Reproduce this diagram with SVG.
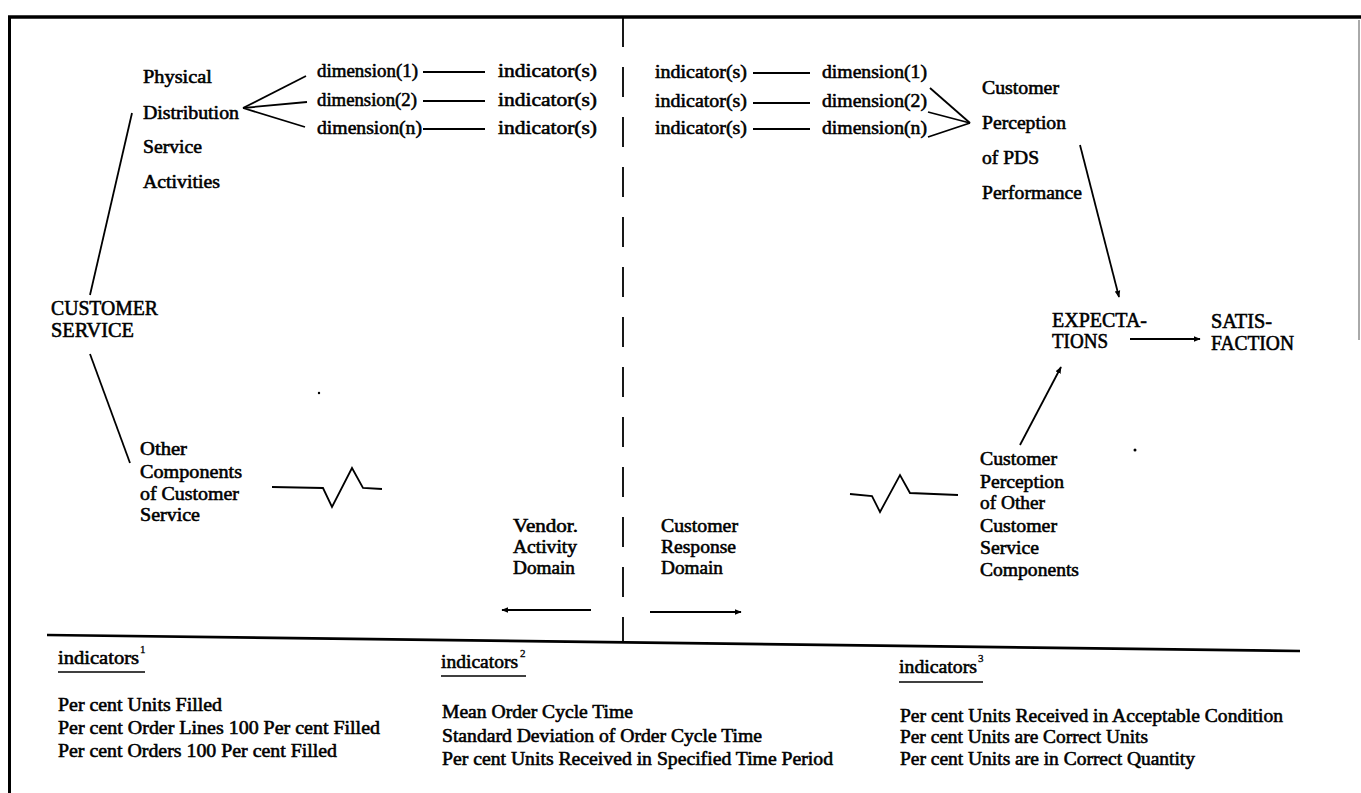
<svg xmlns="http://www.w3.org/2000/svg" width="1361" height="793" viewBox="0 0 1361 793">
<style>
text{font-family:"Liberation Serif","Times New Roman",serif;font-size:18px;fill:#000;stroke:#000;stroke-width:0.55}
.cap{font-size:20px}
.sup{font-size:11px;stroke-width:0.3}
.ln{stroke:#000;stroke-width:1.8;fill:none}
.ul{stroke:#000;stroke-width:1.5;fill:none}
</style>
<defs>
<marker id="ah" viewBox="0 0 10 10" refX="9" refY="5" markerWidth="7" markerHeight="7" orient="auto" markerUnits="userSpaceOnUse">
<path d="M0,1 L10,5 L0,9 z" fill="#000"/>
</marker>
</defs>
<rect width="1361" height="793" fill="#fff"/>
<g id="frame">
<line x1="8" y1="17" x2="1361" y2="17" stroke="#000" stroke-width="3.5"/>
<line x1="9.5" y1="16" x2="9.5" y2="793" stroke="#000" stroke-width="3"/>
<line x1="1359" y1="20" x2="1359" y2="340" stroke="#555" stroke-width="1"/>
<line x1="623" y1="17" x2="623" y2="642" stroke="#000" stroke-width="1.8" stroke-dasharray="30 20"/>
<line x1="47" y1="635" x2="1300" y2="651" stroke="#000" stroke-width="2.6"/>
<circle cx="319" cy="393" r="1.2" fill="#000"/>
<circle cx="1135" cy="450" r="1.5" fill="#000"/>
</g>
<g id="connectors">
<line class="ln" x1="132" y1="113" x2="90" y2="295"/>
<line class="ln" x1="90" y1="354" x2="130" y2="463"/>
<line class="ln" x1="306" y1="76" x2="243" y2="108"/>
<line class="ln" x1="307" y1="102" x2="243" y2="108"/>
<line class="ln" x1="305" y1="127" x2="243" y2="108"/>
<line class="ln" x1="423" y1="72" x2="485" y2="72"/>
<line class="ln" x1="423" y1="101" x2="485" y2="101"/>
<line class="ln" x1="423" y1="129" x2="485" y2="129"/>
<line class="ln" x1="753" y1="73" x2="810" y2="73"/>
<line class="ln" x1="753" y1="103" x2="810" y2="103"/>
<line class="ln" x1="753" y1="129" x2="810" y2="129"/>
<line class="ln" x1="930" y1="88" x2="970" y2="123"/>
<line class="ln" x1="928" y1="112" x2="970" y2="123"/>
<line class="ln" x1="928" y1="137" x2="970" y2="123"/>
<line class="ln" x1="1080" y1="145" x2="1119" y2="297" marker-end="url(#ah)"/>
<line class="ln" x1="1130" y1="339" x2="1200" y2="339" marker-end="url(#ah)"/>
<line class="ln" x1="1020" y1="445" x2="1061" y2="367" marker-end="url(#ah)"/>
<polyline class="ln" points="272,487 323,488 332,507 352,468 363,488 382,489"/>
<polyline class="ln" points="850,494 872,496 880,512 900,475 910,493 958,495"/>
<line class="ln" x1="591" y1="610" x2="502" y2="610" marker-end="url(#ah)"/>
<line class="ln" x1="650" y1="612" x2="741" y2="612" marker-end="url(#ah)"/>
</g>
<g id="pdsa">
<text x="143" y="83" textLength="69" lengthAdjust="spacingAndGlyphs">Physical</text>
<text x="143" y="119" textLength="96" lengthAdjust="spacingAndGlyphs">Distribution</text>
<text x="143" y="153" textLength="59" lengthAdjust="spacingAndGlyphs">Service</text>
<text x="143" y="188" textLength="77" lengthAdjust="spacingAndGlyphs">Activities</text>
</g>
<g id="customer-service">
<text class="cap" x="51" y="315" textLength="107" lengthAdjust="spacingAndGlyphs">CUSTOMER</text>
<text class="cap" x="51" y="337" textLength="83" lengthAdjust="spacingAndGlyphs">SERVICE</text>
</g>
<g id="vendor-dims">
<text x="317" y="77" textLength="101" lengthAdjust="spacingAndGlyphs">dimension(1)</text>
<text x="317" y="106" textLength="100" lengthAdjust="spacingAndGlyphs">dimension(2)</text>
<text x="317" y="134" textLength="105" lengthAdjust="spacingAndGlyphs">dimension(n)</text>
<text x="498" y="77" textLength="99" lengthAdjust="spacingAndGlyphs">indicator(s)</text>
<text x="498" y="106" textLength="99" lengthAdjust="spacingAndGlyphs">indicator(s)</text>
<text x="498" y="134" textLength="99" lengthAdjust="spacingAndGlyphs">indicator(s)</text>
</g>
<g id="customer-dims">
<text x="655" y="78" textLength="92" lengthAdjust="spacingAndGlyphs">indicator(s)</text>
<text x="655" y="107" textLength="92" lengthAdjust="spacingAndGlyphs">indicator(s)</text>
<text x="655" y="134" textLength="92" lengthAdjust="spacingAndGlyphs">indicator(s)</text>
<text x="822" y="78" textLength="105" lengthAdjust="spacingAndGlyphs">dimension(1)</text>
<text x="822" y="107" textLength="105" lengthAdjust="spacingAndGlyphs">dimension(2)</text>
<text x="822" y="134" textLength="105" lengthAdjust="spacingAndGlyphs">dimension(n)</text>
</g>
<g id="perception-pds">
<text x="982" y="94" textLength="77" lengthAdjust="spacingAndGlyphs">Customer</text>
<text x="982" y="129" textLength="84" lengthAdjust="spacingAndGlyphs">Perception</text>
<text x="982" y="164" textLength="57" lengthAdjust="spacingAndGlyphs">of PDS</text>
<text x="982" y="199" textLength="100" lengthAdjust="spacingAndGlyphs">Performance</text>
</g>
<g id="expectations">
<text class="cap" x="1052" y="327" textLength="95" lengthAdjust="spacingAndGlyphs">EXPECTA-</text>
<text class="cap" x="1052" y="348" textLength="56" lengthAdjust="spacingAndGlyphs">TIONS</text>
</g>
<g id="satisfaction">
<text class="cap" x="1211" y="328" textLength="61" lengthAdjust="spacingAndGlyphs">SATIS-</text>
<text class="cap" x="1211" y="350" textLength="83" lengthAdjust="spacingAndGlyphs">FACTION</text>
</g>
<g id="other-components">
<text x="140" y="455" textLength="47" lengthAdjust="spacingAndGlyphs">Other</text>
<text x="140" y="478" textLength="102" lengthAdjust="spacingAndGlyphs">Components</text>
<text x="140" y="500" textLength="99" lengthAdjust="spacingAndGlyphs">of Customer</text>
<text x="140" y="521" textLength="60" lengthAdjust="spacingAndGlyphs">Service</text>
</g>
<g id="perception-other">
<text x="980" y="465" textLength="77" lengthAdjust="spacingAndGlyphs">Customer</text>
<text x="980" y="488" textLength="84" lengthAdjust="spacingAndGlyphs">Perception</text>
<text x="980" y="509" textLength="65" lengthAdjust="spacingAndGlyphs">of Other</text>
<text x="980" y="532" textLength="77" lengthAdjust="spacingAndGlyphs">Customer</text>
<text x="980" y="554" textLength="59" lengthAdjust="spacingAndGlyphs">Service</text>
<text x="980" y="576" textLength="99" lengthAdjust="spacingAndGlyphs">Components</text>
</g>
<g id="vendor-domain">
<text x="513" y="532" textLength="65" lengthAdjust="spacingAndGlyphs">Vendor.</text>
<text x="513" y="553" textLength="64" lengthAdjust="spacingAndGlyphs">Activity</text>
<text x="513" y="574" textLength="62" lengthAdjust="spacingAndGlyphs">Domain</text>
</g>
<g id="customer-domain">
<text x="661" y="532" textLength="77" lengthAdjust="spacingAndGlyphs">Customer</text>
<text x="661" y="553" textLength="75" lengthAdjust="spacingAndGlyphs">Response</text>
<text x="661" y="574" textLength="62" lengthAdjust="spacingAndGlyphs">Domain</text>
</g>
<g id="indicators1">
<text x="58" y="664" textLength="81" lengthAdjust="spacingAndGlyphs">indicators</text>
<text class="sup" x="140" y="653">1</text>
<line class="ul" x1="58" y1="672" x2="145" y2="672"/>
<text x="58" y="711" textLength="164" lengthAdjust="spacingAndGlyphs">Per cent Units Filled</text>
<text x="58" y="734" textLength="322" lengthAdjust="spacingAndGlyphs">Per cent Order Lines 100 Per cent Filled</text>
<text x="58" y="757" textLength="279" lengthAdjust="spacingAndGlyphs">Per cent Orders 100 Per cent Filled</text>
</g>
<g id="indicators2">
<text x="441" y="668" textLength="77" lengthAdjust="spacingAndGlyphs">indicators</text>
<text class="sup" x="520" y="657">2</text>
<line class="ul" x1="441" y1="676" x2="526" y2="676"/>
<text x="442" y="718" textLength="191" lengthAdjust="spacingAndGlyphs">Mean Order Cycle Time</text>
<text x="442" y="742" textLength="320" lengthAdjust="spacingAndGlyphs">Standard Deviation of Order Cycle Time</text>
<text x="442" y="765" textLength="391" lengthAdjust="spacingAndGlyphs">Per cent Units Received in Specified Time Period</text>
</g>
<g id="indicators3">
<text x="899" y="673" textLength="78" lengthAdjust="spacingAndGlyphs">indicators</text>
<text class="sup" x="978" y="662">3</text>
<line class="ul" x1="899" y1="682" x2="983" y2="682"/>
<text x="900" y="722" textLength="383" lengthAdjust="spacingAndGlyphs">Per cent Units Received in Acceptable Condition</text>
<text x="900" y="743" textLength="248" lengthAdjust="spacingAndGlyphs">Per cent Units are Correct Units</text>
<text x="900" y="765" textLength="295" lengthAdjust="spacingAndGlyphs">Per cent Units are in Correct Quantity</text>
</g>
</svg>
